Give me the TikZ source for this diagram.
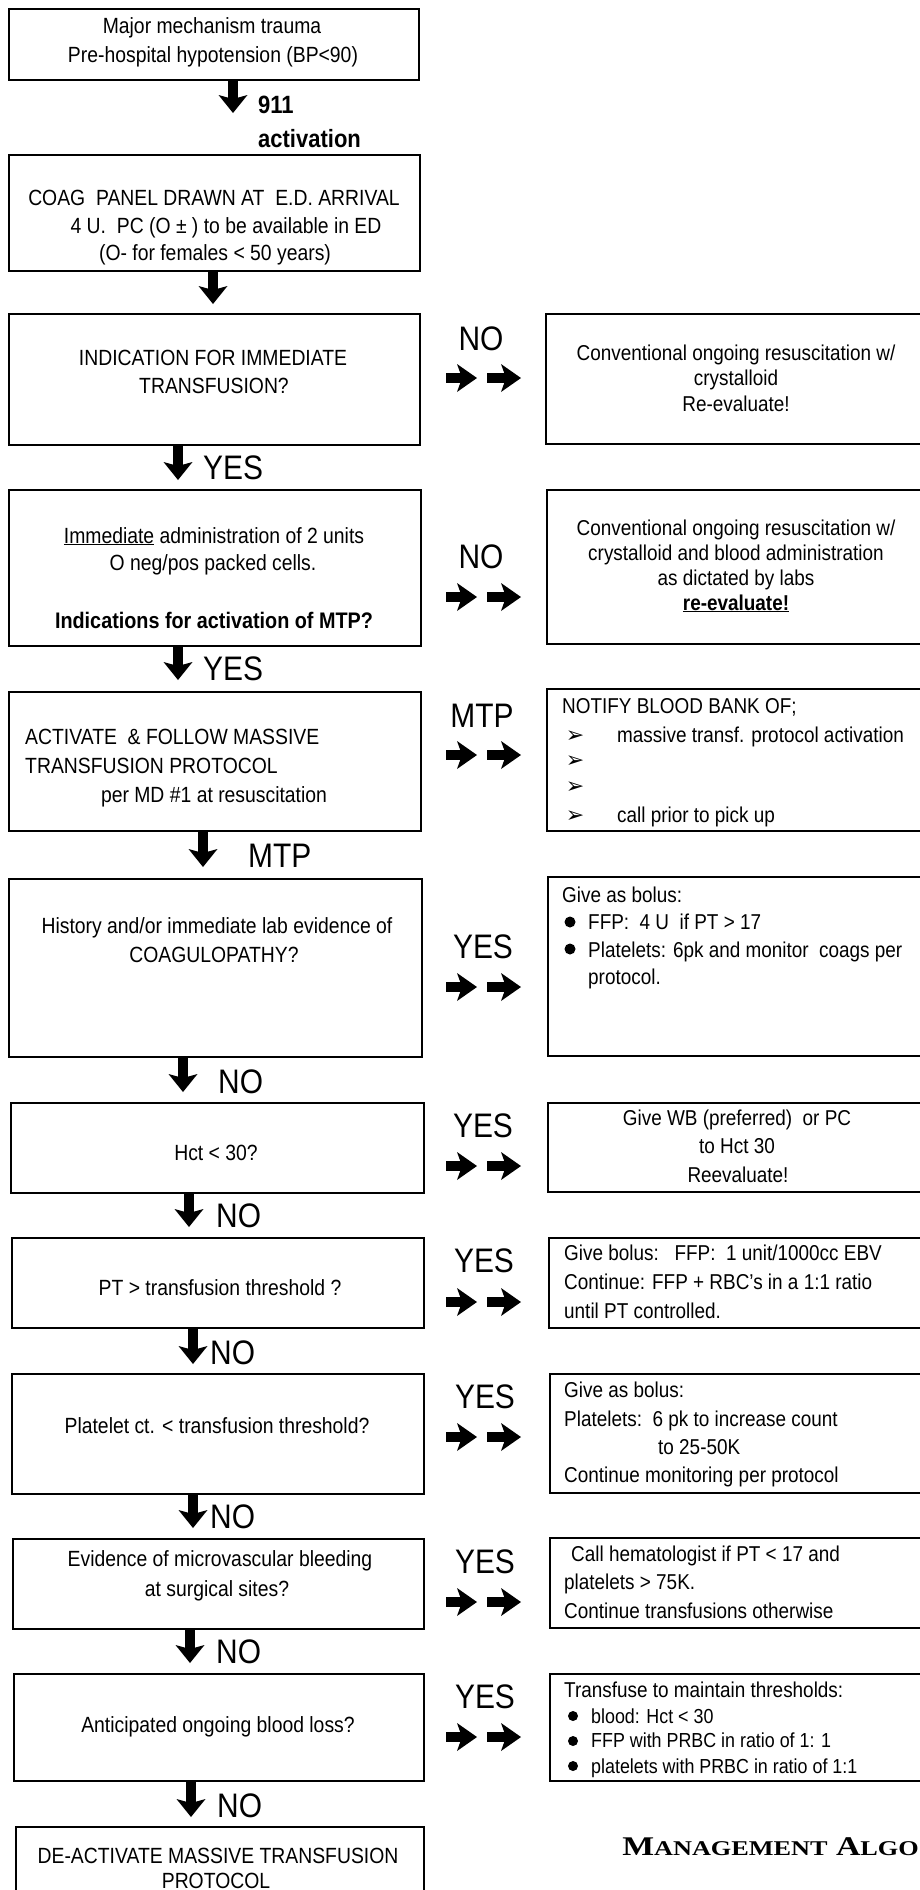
\documentclass[tikz,border=0pt]{standalone}
\usepackage{fontspec}
\setmainfont{Liberation Sans}[FakeStretch=0.88]
\newfontfamily\capfont{Liberation Serif}[FakeStretch=1.25]
\newfontfamily\dejavu{DejaVu Sans}
\usetikzlibrary{arrows.meta}
\tikzset{
 box/.style={draw, line width=2pt, inner sep=0pt, anchor=north west},
 tl/.style={anchor=base, inner sep=0pt, font=\fontsize{22}{26}\selectfont},
 tll/.style={tl, anchor=base west},
 tlb/.style={anchor=base, inner sep=0pt, font=\bfseries\fontsize{22.5}{26}\selectfont},
 tr/.style={anchor=base, inner sep=0pt, font=\fontsize{21.5}{26}\selectfont},
 trl/.style={tr, anchor=base west},
 trs/.style={anchor=base west, inner sep=0pt, font=\fontsize{20.3}{24}\selectfont},
 lab/.style={anchor=base, inner sep=0pt, font=\fontsize{34}{38}\selectfont},
 labl/.style={lab, anchor=base west},
 big/.style={anchor=base west, inner sep=0pt, font=\bfseries\fontsize{25}{28}\selectfont},
 dn/.style={line width=10pt, -{Stealth[length=18pt,width=29pt,inset=4pt,line width=0pt]}},
 rt/.style={line width=10pt, -{Stealth[length=20pt,width=28pt,inset=5pt,line width=0pt]}},
 dot/.style={circle, fill, inner sep=0pt, minimum size=11pt},
 sdot/.style={circle, fill, inner sep=0pt, minimum size=10pt},
 chev/.style={anchor=base, inner sep=0pt, font=\dejavu\fontsize{22}{24}\selectfont},
}
\newcommand{\mkbox}[5]{\node[box, minimum width={#4-#2}, minimum height={#5-#3}] (#1) at (#2,#3) {};}
\newcommand{\dblarrow}[2]{%
 \coordinate (#1a) at (446,#2); \coordinate (#1b) at (477,#2);
 \coordinate (#1c) at (487,#2); \coordinate (#1d) at (521,#2);
 \draw[rt] (#1a) -- (#1b); \draw[rt] (#1c) -- (#1d);}
\newcommand{\dnarr}[4]{%
 \coordinate (#1) at (#3,#4); \draw[dn] (#2.south -| #1) -- (#1);}
\begin{document}
\begin{tikzpicture}[x=1pt,y=-1pt]
\useasboundingbox (0,0) rectangle (919,1890);
\fill[white] (0,0) rectangle (919,1890);
% ---------- left column boxes
\mkbox{b1}{8}{8}{418}{79}
\mkbox{b2}{8}{154}{419}{270}
\mkbox{b3}{8}{313}{419}{444}
\mkbox{b4}{8}{489}{420}{645}
\mkbox{b5}{8}{691}{420}{830}
\mkbox{b6}{8}{878}{421}{1056}
\mkbox{b7}{10}{1102}{423}{1192}
\mkbox{b8}{11}{1237}{423}{1327}
\mkbox{b9}{11}{1373}{423}{1493}
\mkbox{b10}{12}{1538}{423}{1628}
\mkbox{b11}{13}{1673}{423}{1780}
\mkbox{b12}{15}{1826}{423}{1910}
% ---------- right column boxes
\mkbox{r3}{545}{313}{940}{443}
\mkbox{r4}{546}{489}{940}{643}
\mkbox{r5}{546}{688}{940}{830}
\mkbox{r6}{547}{876}{940}{1055}
\mkbox{r7}{547}{1102}{940}{1191}
\mkbox{r8}{548}{1237}{940}{1327}
\mkbox{r9}{549}{1373}{940}{1492}
\mkbox{r10}{549}{1537}{940}{1627}
\mkbox{r11}{549}{1673}{940}{1780}
% ---------- left texts
\node[tl] (t1a) at (212,33) {Major mechanism trauma};
\node[tl] (t1b) at (213,62) {Pre-hospital hypotension (BP<90)};
\node[big] (l911) at (258,113) {911};
\node[big] (lact) at (258,147) {activation};
\node[tl] (t2a) at (214,205) {COAG\ \ PANEL DRAWN AT\ \ E.D. ARRIVAL};
\node[tl] (t2b) at (226,233) {4 U.\ \ PC (O ± ) to be available in ED};
\node[tl] (t2c) at (215,260) {(O- for females < 50 years)};
\node[tl] (t3a) at (213,365) {INDICATION FOR IMMEDIATE};
\node[tl] (t3b) at (214,393) {TRANSFUSION?};
\node[tl] (t4a) at (214,543) {\underline{Immediate} administration of 2 units};
\node[tl] (t4b) at (213,570) {O neg/pos packed cells.};
\node[tlb] (t4c) at (214,628) {Indications for activation of MTP?};
\node[tll] (t5a) at (25,744) {ACTIVATE\ \ \& FOLLOW MASSIVE};
\node[tll] (t5b) at (25,773) {TRANSFUSION PROTOCOL};
\node[tl] (t5c) at (214,802) {per MD \#1 at resuscitation};
\node[tl] (t6a) at (217,933) {History and/or immediate lab evidence of};
\node[tl] (t6b) at (214,962) {COAGULOPATHY?};
\node[tl] (t7) at (216,1160) {Hct < 30?};
\node[tl] (t8) at (220,1295) {PT > transfusion threshold ?};
\node[tl] (t9) at (217,1433) {Platelet ct. < transfusion threshold?};
\node[tl] (t10a) at (220,1566) {Evidence of microvascular bleeding};
\node[tl] (t10b) at (217,1596) {at surgical sites?};
\node[tl] (t11) at (218,1732) {Anticipated ongoing blood loss?};
\node[tl] (t12a) at (218,1863) {DE-ACTIVATE MASSIVE TRANSFUSION};
\node[tl] (t12b) at (216,1888) {PROTOCOL};
% ---------- right texts
\node[tr] (s3a) at (736,360) {Conventional ongoing resuscitation w/};
\node[tr] (s3b) at (736,385) {crystalloid};
\node[tr] (s3c) at (736,411) {Re-evaluate!};
\node[tr] (s4a) at (736,535) {Conventional ongoing resuscitation w/};
\node[tr] (s4b) at (736,560) {crystalloid and blood administration};
\node[tr] (s4c) at (736,585) {as dictated by labs};
\node[tr] (s4d) at (736,610) {\bfseries\underline{re-evaluate!}};
\node[trl] (s5a) at (562,713) {NOTIFY BLOOD BANK OF;};
\node[chev] (c5a) at (575,742) {➢};
\node[chev] (c5b) at (575,767) {➢};
\node[chev] (c5c) at (575,793) {➢};
\node[chev] (c5d) at (575,822) {➢};
\node[trl] (s5b) at (617,742) {massive transf. protocol activation};
\node[trl] (s5c) at (617,822) {call prior to pick up};
\node[trl] (s6a) at (562,902) {Give as bolus:};
\node[dot] (d6a) at (570,922) {};
\node[dot] (d6b) at (570,949) {};
\node[trl] (s6b) at (588,929) {FFP:\ \ 4 U\ \ if PT > 17};
\node[trl] (s6c) at (588,957) {Platelets: 6pk and monitor\ \ coags per};
\node[trl] (s6d) at (588,984) {protocol.};
\node[tr] (s7a) at (737,1125) {Give WB (preferred)\ \ or PC};
\node[tr] (s7b) at (737,1153) {to Hct 30};
\node[tr] (s7c) at (738,1182) {Reevaluate!};
\node[trl] (s8a) at (564,1260) {Give bolus:\ \ \ FFP:\ \ 1 unit/1000cc EBV};
\node[trl] (s8b) at (564,1289) {Continue: FFP + RBC's in a 1:1 ratio};
\node[trl] (s8c) at (564,1318) {until PT controlled.};
\node[trl] (s9a) at (564,1397) {Give as bolus:};
\node[trl] (s9b) at (564,1426) {Platelets:\ \ 6 pk to increase count};
\node[trl] (s9c) at (658,1454) {to 25-50K};
\node[trl] (s9d) at (564,1482) {Continue monitoring per protocol};
\node[trl] (s10a) at (571,1561) {Call hematologist if PT < 17 and};
\node[trl] (s10b) at (564,1589) {platelets > 75K.};
\node[trl] (s10c) at (564,1618) {Continue transfusions otherwise};
\node[trl] (s11a) at (564,1697) {Transfuse to maintain thresholds:};
\node[sdot] (d11a) at (573,1716) {};
\node[sdot] (d11b) at (573,1741) {};
\node[sdot] (d11c) at (573,1766) {};
\node[trs] (s11b) at (591,1723) {blood: Hct < 30};
\node[trs] (s11c) at (591,1747) {FFP with PRBC in ratio of 1: 1};
\node[trs] (s11d) at (591,1773) {platelets with PRBC in ratio of 1:1};
% ---------- middle labels and double arrows
\node[lab] (m3) at (481,350) {NO};
\node[lab] (m4) at (481,568) {NO};
\node[lab] (m5) at (482,727) {MTP};
\node[lab] (m6) at (483,958) {YES};
\node[lab] (m7) at (483,1137) {YES};
\node[lab] (m8) at (484,1272) {YES};
\node[lab] (m9) at (485,1408) {YES};
\node[lab] (m10) at (485,1573) {YES};
\node[lab] (m11) at (485,1708) {YES};
\dblarrow{h3}{378}
\dblarrow{h4}{597}
\dblarrow{h5}{755}
\dblarrow{h6}{987}
\dblarrow{h7}{1166}
\dblarrow{h8}{1302}
\dblarrow{h9}{1437}
\dblarrow{h10}{1602}
\dblarrow{h11}{1737}
% ---------- down arrows and labels
\dnarr{a1}{b1}{233}{113}
\dnarr{a2}{b2}{213}{304}
\dnarr{a3}{b3}{178}{480}
\dnarr{a4}{b4}{178}{680}
\dnarr{a5}{b5}{203}{867}
\dnarr{a6}{b6}{183}{1092}
\dnarr{a7}{b7}{189}{1227}
\dnarr{a8}{b8}{193}{1364}
\dnarr{a9}{b9}{193}{1528}
\dnarr{a10}{b10}{190}{1663}
\dnarr{a11}{b11}{191}{1817}
\node[labl] (y3) at (203,479) {YES};
\node[labl] (y4) at (203,680) {YES};
\node[labl] (y5) at (248,867) {MTP};
\node[labl] (y6) at (218,1093) {NO};
\node[labl] (y7) at (216,1227) {NO};
\node[labl] (y8) at (210,1364) {NO};
\node[labl] (y9) at (210,1528) {NO};
\node[labl] (y10) at (216,1663) {NO};
\node[labl] (y11) at (217,1817) {NO};
% ---------- caption fragment
\node[anchor=base east, inner sep=0pt, font=\capfont\bfseries\fontsize{27}{30}\selectfont] (title) at (919,1855)
 {M{\fontsize{21}{24}\selectfont ANAGEMENT} A{\fontsize{21}{24}\selectfont LGO}};
\end{tikzpicture}
\end{document}
